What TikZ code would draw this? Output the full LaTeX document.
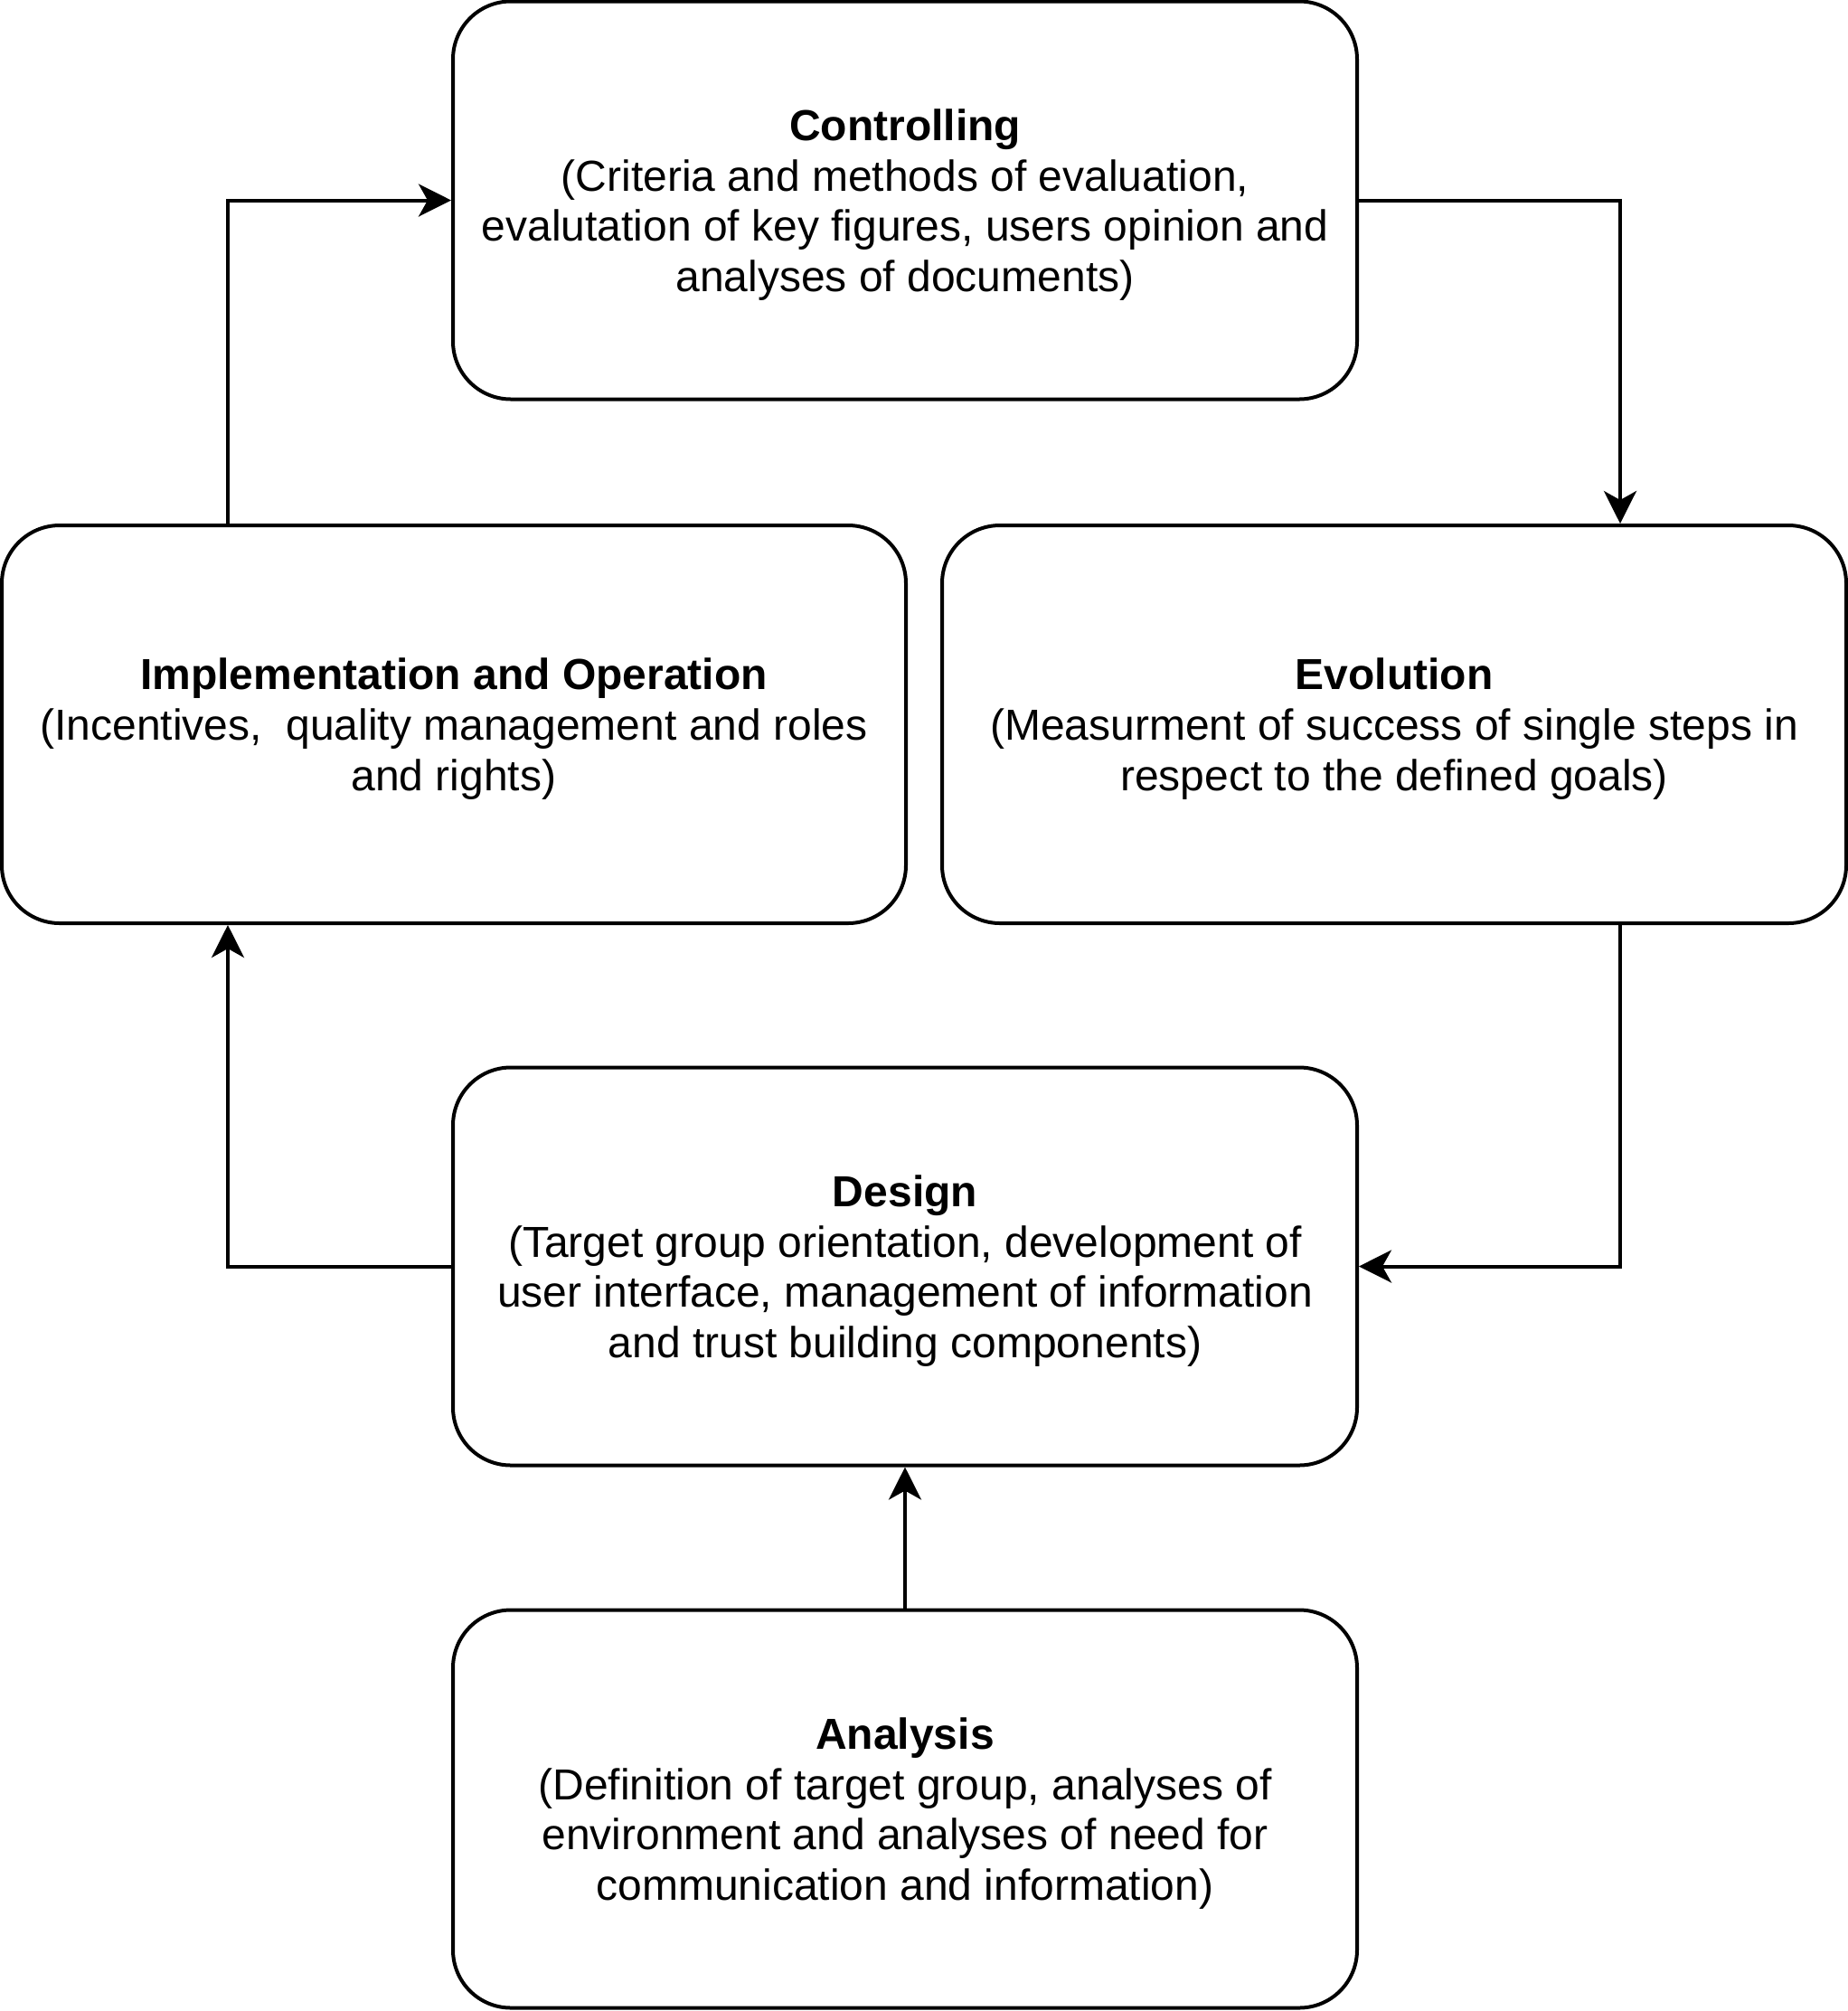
\documentclass[tikz,border=0pt]{standalone}
\usepackage{fontspec}
\setmainfont{Liberation Sans}
\usetikzlibrary{positioning, arrows.meta}

\begin{document}
\begin{tikzpicture}[font=\fontsize{24pt}{27.9pt}\selectfont]
            % Block style
            \tikzstyle{block} = [rectangle, draw, rounded corners=32pt, line width=2pt, align=center, text depth=0pt, minimum width=500pt, minimum height=220pt]
            \tikzstyle{flow} = [-{Stealth[length=18pt, width=18pt, inset=5pt]}, line width=2pt]

            % Page frame
            \useasboundingbox (0,0) rectangle (1022pt,-1112pt);

            % Top of the cycle
            \node[block] (controlling) at (500.5pt,-110.75pt) {\textbf{Controlling}\\(Criteria and methods of evaluation,\\evalutation of key figures, users opinion and\\analyses of documents)};

            % Middle row
            \node[block] (impl) at (251pt,-400.5pt) {\textbf{Implementation and Operation}\\(Incentives,\ \ quality management and roles\\and rights)};
            \node[block, right=18pt of impl] (evolution) {\textbf{Evolution}\\(Measurment of success of single steps in\\respect to the defined goals)};

            % Design and analysis
            \node[block, below=367.5pt of controlling] (design) {\textbf{Design}\\(Target group orientation, development of\\user interface, management of information\\and trust building components)};
            \node[block, below=78pt of design] (analysis) {\textbf{Analysis}\\(Definition of target group, analyses of\\environment and analyses of need for\\communication and information)};

            % Connections
            \draw[flow] (analysis) -- (design);
            \draw[flow] (design.west) -| ([xshift=-125pt]impl.south);
            \draw[flow] ([xshift=-125pt]impl.north) |- (controlling.west);
            \draw[flow] (controlling.east) -| ([xshift=125pt]evolution.north);
            \draw[flow] ([xshift=125pt]evolution.south) |- (design.east);
\end{tikzpicture}
\end{document}
